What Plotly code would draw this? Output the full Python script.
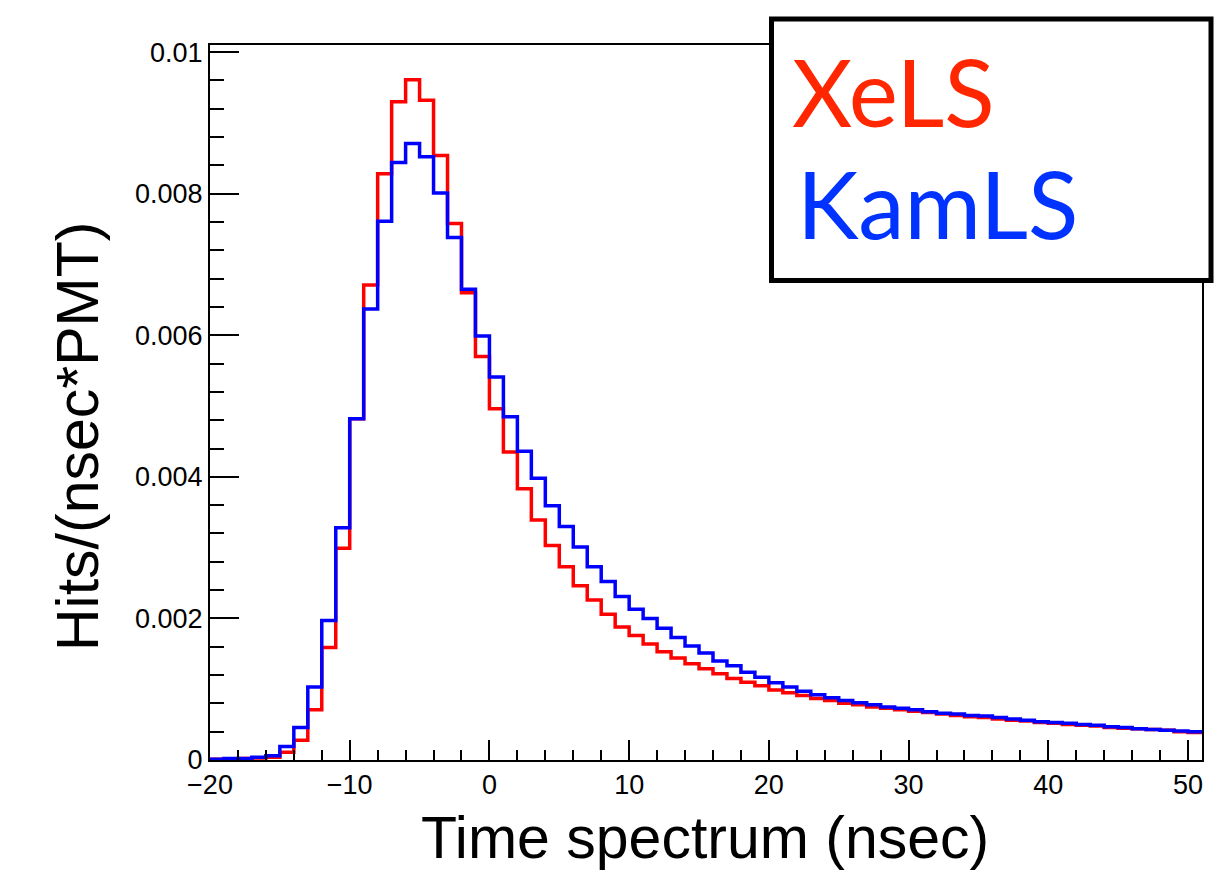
import plotly.graph_objects as go

# Time spectrum histograms: 1 ns bins from -20 ns to 51 ns (left bin edges)
bin_start = -20
bin_width = 1

xels = [
    0.00001, 0.00001, 0.00002, 0.00003, 0.00004, 0.00011, 0.00028, 0.00071,
    0.00159, 0.00299, 0.00482, 0.00671, 0.00828, 0.00930, 0.00961, 0.00932,
    0.00854, 0.00758, 0.00660, 0.00570, 0.00496, 0.00435, 0.00383, 0.00339,
    0.00303, 0.00273, 0.00246, 0.00226, 0.00206, 0.00188, 0.00176, 0.00164,
    0.00153, 0.00144, 0.00136, 0.00129, 0.00122, 0.00115, 0.00110, 0.00105,
    0.00099, 0.00095, 0.00091, 0.00087, 0.00084, 0.00080, 0.00078, 0.00075,
    0.00073, 0.00071, 0.00069, 0.00067, 0.00065, 0.00063, 0.00061, 0.00060,
    0.00058, 0.00056, 0.00055, 0.00053, 0.00052, 0.00050, 0.00049, 0.00048,
    0.00046, 0.00045, 0.00044, 0.00043, 0.00042, 0.00040, 0.00039,
]

kamls = [
    0.00001, 0.00002, 0.00002, 0.00004, 0.00006, 0.00019, 0.00046, 0.00103,
    0.00197, 0.00328, 0.00482, 0.00637, 0.00761, 0.00844, 0.00871, 0.00852,
    0.00801, 0.00738, 0.00665, 0.00599, 0.00541, 0.00485, 0.00436, 0.00398,
    0.00359, 0.00330, 0.00301, 0.00273, 0.00252, 0.00231, 0.00213, 0.00200,
    0.00186, 0.00173, 0.00161, 0.00151, 0.00140, 0.00133, 0.00124, 0.00117,
    0.00109, 0.00103, 0.00097, 0.00092, 0.00088, 0.00084, 0.00081, 0.00078,
    0.00075, 0.00073, 0.00071, 0.00068, 0.00066, 0.00065, 0.00063, 0.00062,
    0.00060, 0.00058, 0.00056, 0.00054, 0.00053, 0.00052, 0.00050, 0.00049,
    0.00047, 0.00046, 0.00044, 0.00043, 0.00042, 0.00041, 0.00040,
]

x_tick_vals = [-20, -10, 0, 10, 20, 30, 40, 50]
x_tick_text = ["\u221220", "\u221210", "0", "10", "20", "30", "40", "50"]
y_tick_vals = [0, 0.002, 0.004, 0.006, 0.008, 0.01]
y_tick_text = ["0", "0.002", "0.004", "0.006", "0.008", "0.01"]

series = [
    ("XeLS", xels, "#ff0000", "#ff2600"),
    ("KamLS", kamls, "#0000ff", "#0033ff"),
]

W, H = 1220, 871
M_L, M_R, M_T, M_B = 210, 18, 45, 111
PW, PH = W - M_L - M_R, H - M_T - M_B


def paper_x(px):
    return (px - M_L) / PW


def paper_y(py):
    return (H - M_B - py) / PH


def step_xy(values):
    edges = [bin_start + i * bin_width for i in range(len(values) + 1)]
    return edges, list(values) + [values[-1]]


fig = go.Figure()
for name, vals, color, _ in series:
    xs, ys = step_xy(vals)
    fig.add_trace(go.Scatter(
        x=xs, y=ys, mode="lines", name=name,
        line=dict(color=color, width=3.5, shape="hv"),
        showlegend=False, hoverinfo="skip",
    ))

tick_font = dict(family="Liberation Sans, Arial, sans-serif", size=27, color="black")
title_font = dict(family="Liberation Sans, Arial, sans-serif", size=59, color="black")

fig.update_xaxes(
    range=[-20, 51], showgrid=False, zeroline=False,
    showline=True, linecolor="black", linewidth=2, mirror=True,
    ticks="inside", ticklen=20, tickwidth=1.5, tickcolor="black",
    tickvals=x_tick_vals, ticktext=x_tick_text, tickfont=tick_font,
    minor=dict(ticks="inside", ticklen=10, tickwidth=1.5, tickcolor="black", dtick=2, showgrid=False),
)
fig.update_yaxes(
    range=[0, 0.0101], showgrid=False, zeroline=False,
    showline=True, linecolor="black", linewidth=2, mirror=True,
    ticks="inside", ticklen=29, tickwidth=1.5, tickcolor="black",
    tickvals=y_tick_vals, ticktext=y_tick_text, tickfont=tick_font,
    minor=dict(ticks="inside", ticklen=14, tickwidth=1.5, tickcolor="black", dtick=0.0004, showgrid=False),
)

annotations = [
    dict(text="Time spectrum (nsec)", x=paper_x(705), y=paper_y(838),
         xref="paper", yref="paper", xanchor="center", yanchor="middle",
         showarrow=False, font=title_font),
    dict(text="Hits/(nsec*PMT)", x=paper_x(78), y=paper_y(437),
         xref="paper", yref="paper", xanchor="center", yanchor="middle",
         textangle=-90, showarrow=False, font=title_font),
]

# Text key in a framed box at the top right
key_rows = [(790, 91), (795, 203)]
for (name, _, _, text_color), (kx, ky) in zip(series, key_rows):
    annotations.append(dict(
        text=name, x=paper_x(kx), y=paper_y(ky), xref="paper", yref="paper",
        xanchor="left", yanchor="middle", showarrow=False,
        font=dict(family="Lato, Open Sans, sans-serif", size=93, color=text_color),
    ))

shapes = [
    dict(type="rect", xref="paper", yref="paper", layer="above",
         x0=paper_x(771.5), x1=paper_x(1211), y0=paper_y(280.5), y1=paper_y(19),
         line=dict(color="black", width=5), fillcolor="white"),
]

fig.update_layout(
    width=W, height=H,
    margin=dict(l=M_L, r=M_R, t=M_T, b=M_B),
    paper_bgcolor="white", plot_bgcolor="white",
    shapes=shapes, annotations=annotations,
)

fig.write_html("out.html")
